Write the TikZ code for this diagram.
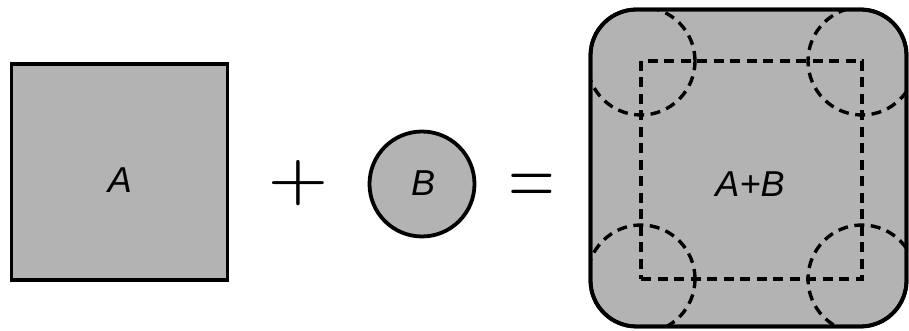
\documentclass[tikz,border=0pt]{standalone}
\usepackage{fontspec}
\usepackage{graphicx}
\newfontfamily\lblfont{Liberation Sans}
\definecolor{shade}{RGB}{179,179,179}
\begin{document}
\begin{tikzpicture}[x=1pt,y=1pt,
  shapeline/.style={draw=black, line width=3.8pt, fill=shade, inner sep=0pt, outer sep=0pt},
  dashline/.style={draw=black, line width=3.4pt, dash pattern=on 10pt off 6.5pt, inner sep=0pt, outer sep=0pt},
  lbl/.style={font=\lblfont\itshape\fontsize{36}{40}\selectfont, inner sep=0pt, anchor=base},
  opsign/.style={inner sep=0pt, anchor=base}]
\useasboundingbox (0,0) rectangle (909,331);
% A
\node[shapeline, rectangle, minimum size=216pt] (sqA) at (119.5,159) {};
\node[lbl] (lA) at (120,138) {A};
% plus
\node[opsign, font=\fontsize{7}{7}\selectfont] (plus) at (298,132.6) {\scalebox{10.07}[8.78]{+}};
% B
\node[shapeline, circle, minimum size=105pt] (cB) at (422,147) {};
\node[lbl] (lB) at (423,135) {B};
% equals
\node[opsign, font=\fontsize{10}{10}\selectfont] (eq) at (532,126.4) {\scalebox{6.0}[8.25]{=}};
% A+B
\node[shapeline, rectangle, rounded corners=46pt, minimum width=316pt, minimum height=317pt] (sum) at (748.5,163) {};
\begin{scope}
  \clip[rounded corners=46pt] (sum.south west) rectangle (sum.north east);
  \node[dashline, rectangle, minimum width=221pt, minimum height=218pt] (dsq) at (751.5,161) {};
  \node[dashline, circle, minimum size=108pt] (cnw) at (dsq.north west) {};
  \node[dashline, circle, minimum size=108pt] (cne) at (dsq.north east) {};
  \node[dashline, circle, minimum size=108pt] (csw) at (dsq.south west) {};
  \node[dashline, circle, minimum size=108pt] (cse) at (dsq.south east) {};
\end{scope}
\draw[line width=3.8pt, rounded corners=46pt] (sum.south west) rectangle (sum.north east);
\node[lbl] (lAB) at (750,134) {A+B};
\end{tikzpicture}
\end{document}
